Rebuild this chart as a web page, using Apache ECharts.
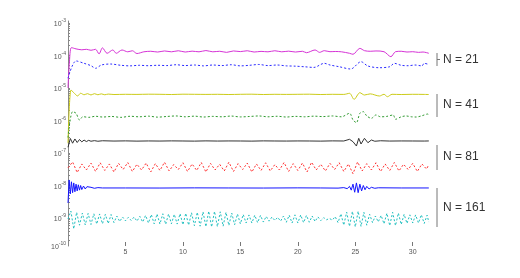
<!DOCTYPE html>
<html><head><meta charset="utf-8">
<script src="https://cdn.jsdelivr.net/npm/echarts@6/dist/echarts.min.js"></script>
<style>html,body{margin:0;padding:0;background:#fff}#c{width:520px;height:278px}</style>
</head><body><div id="c"></div>
<script>
// ---- data (time t, error value) ----
const xTicks = [5, 10, 15, 20, 25, 30];
const yLabelExps = [-3, -4, -5, -6, -7, -8, -9];
const groupLabels = ['N = 21', 'N = 41', 'N = 81', 'N = 161'];

const magT = [0,0.12,0.3,0.7,1.2,1.6,2.0,2.4,2.7,3.0,3.4,3.9,4.2,4.7,5.2,5.6,6.0,6.6,7.2,7.8,8.4,9.0,9.6,10.2,10.8,11.4,12.0,12.6,13.2,13.8,14.4,15.0,15.6,16.2,16.8,17.4,18.0,18.6,19.2,19.8,20.4,20.75,21.5,21.9,22.3,22.8,23.3,23.8,24.5,24.8,25.4,25.8,26.3,26.8,27.5,28.1,28.5,29.0,29.5,30.0,30.5,30.9,31.4];
const magV = [1.0e-5,6e-5,1.75e-4,1.6e-4,1.5e-4,1.55e-4,1.45e-4,1.55e-4,1.12e-4,1.72e-4,1.17e-4,1.48e-4,1.17e-4,1.48e-4,1.3e-4,1.4e-4,1.15e-4,1.3e-4,1.35e-4,1.28e-4,1.38e-4,1.3e-4,1.4e-4,1.28e-4,1.36e-4,1.3e-4,1.42e-4,1.3e-4,1.35e-4,1.25e-4,1.38e-4,1.32e-4,1.4e-4,1.28e-4,1.34e-4,1.3e-4,1.4e-4,1.3e-4,1.36e-4,1.28e-4,1.35e-4,1.22e-4,1.48e-4,1.25e-4,1.41e-4,1.31e-4,1.33e-4,1.3e-4,1.17e-4,1.09e-4,1.66e-4,1.41e-4,1.35e-4,1.38e-4,1.31e-4,0.92e-4,1.31e-4,1.35e-4,1.28e-4,1.31e-4,1.25e-4,1.28e-4,1.17e-4];

const bdT = [0,0.7,1.4,2.0,2.4,2.9,3.7,4.6,5.4,6.2,7.0,7.8,8.6,9.4,10.2,11.0,11.8,12.6,13.4,14.2,15.0,15.8,16.6,17.4,18.2,19.0,19.8,20.6,21.4,22.3,22.8,23.6,24.6,25.5,26.1,27.1,28.0,28.4,29.0,29.6,30.2,30.8,31.0,31.4];
const bdV = [2.0e-5,6.8e-5,5.75e-5,4.86e-5,4.04e-5,5.1e-5,5.47e-5,5.0e-5,4.8e-5,5.0e-5,4.85e-5,5.0e-5,4.9e-5,5.2e-5,4.9e-5,5.1e-5,4.8e-5,5.1e-5,4.9e-5,5.2e-5,4.8e-5,5.0e-5,5.3e-5,4.9e-5,5.1e-5,4.8e-5,4.7e-5,4.5e-5,4.3e-5,5.75e-5,5.1e-5,4.52e-5,3.84e-5,6.44e-5,4.75e-5,4.21e-5,4.52e-5,5.75e-5,5.0e-5,4.85e-5,5.1e-5,4.8e-5,5.75e-5,5.3e-5];

const yelT = [0,0.26,0.5,0.84,1.1,1.4,1.7,2.0,2.3,2.6,2.9,3.2,3.5,4,5,6,7,8,9,10,11,12,13,14,15,16,17,18,19,20,21,22,23,24,24.5,24.9,25.4,25.8,26.3,27.1,27.5,27.8,28.2,29,30,31,31.4];
const yelV = [2e-7,8.7e-6,7.2e-6,5.7e-6,6.9e-6,6.2e-6,6.7e-6,6.1e-6,6.7e-6,6.2e-6,6.6e-6,6.2e-6,6.5e-6,6.3e-6,6.4e-6,6.35e-6,6.45e-6,6.4e-6,6.3e-6,6.45e-6,6.4e-6,6.35e-6,6.4e-6,6.3e-6,6.4e-6,6.45e-6,6.3e-6,6.4e-6,6.35e-6,6.4e-6,6.45e-6,6.3e-6,6.4e-6,6.35e-6,6.87e-6,4.49e-6,7.17e-6,6.09e-6,6.6e-6,5.67e-6,6.4e-6,5.4e-6,6.4e-6,6.3e-6,6.4e-6,6.35e-6,6.3e-6];

const grnT = [0,0.4,0.7,1.0,1.3,1.8,2.4,3.0,3.8,4.6,5.4,6.2,7.0,7.8,8.6,9.4,10.2,11.0,11.8,12.6,13.4,14.2,15.0,15.8,16.6,17.4,18.2,19.0,19.8,20.6,21.4,22.2,23.0,23.8,24.5,24.8,25.1,25.4,25.7,26.0,26.4,26.8,27.2,27.7,28.3,28.5,29.0,29.4,29.9,30.3,30.8,31.3,31.4];
const grnV = [3e-7,1.87e-6,1.67e-6,1.04e-6,1.31e-6,1.25e-6,1.35e-6,1.28e-6,1.33e-6,1.25e-6,1.35e-6,1.3e-6,1.36e-6,1.27e-6,1.33e-6,1.38e-6,1.3e-6,1.36e-6,1.28e-6,1.34e-6,1.3e-6,1.37e-6,1.29e-6,1.33e-6,1.38e-6,1.3e-6,1.35e-6,1.28e-6,1.34e-6,1.3e-6,1.36e-6,1.32e-6,1.38e-6,1.3e-6,1.67e-6,1.04e-6,0.86e-6,1.67e-6,1.87e-6,1.38e-6,1.17e-6,1.48e-6,1.3e-6,1.33e-6,1.48e-6,1.09e-6,1.3e-6,1.38e-6,1.3e-6,1.28e-6,1.4e-6,1.58e-6,1.5e-6];

const blkT = [0,0.2,0.4,0.6,0.8,1.0,1.2,1.4,1.6,1.8,2.0,2.3,2.6,3,4,5,6,7,8,9,10,11,12,13,14,15,16,17,18,19,20,21,22,23,24,24.5,24.8,25.1,25.3,25.5,25.8,26.1,26.4,26.7,27.2,28,29,30,31,31.4];
const blkV = [1.5e-7,2.8e-7,2.0e-7,2.7e-7,2.1e-7,2.6e-7,2.2e-7,2.5e-7,2.25e-7,2.45e-7,2.3e-7,2.4e-7,2.3e-7,2.38e-7,2.33e-7,2.36e-7,2.32e-7,2.35e-7,2.33e-7,2.36e-7,2.34e-7,2.32e-7,2.36e-7,2.33e-7,2.35e-7,2.34e-7,2.32e-7,2.36e-7,2.34e-7,2.33e-7,2.35e-7,2.34e-7,2.32e-7,2.36e-7,2.34e-7,2.64e-7,2.23e-7,1.64e-7,2.83e-7,1.89e-7,2.83e-7,2.07e-7,2.51e-7,2.3e-7,2.38e-7,2.33e-7,2.35e-7,2.34e-7,2.33e-7,2.35e-7];

const redT = [0,0.4,0.8,1.2,1.6,2.0,2.4,2.8,3.2,3.6,4.0,4.4,4.8,5.2,5.6,6.0,6.4,6.8,7.2,7.6,8.0,8.4,8.8,9.2,9.6,10.0,10.4,10.8,11.2,11.6,12.0,12.4,12.8,13.2,13.6,14.0,14.4,14.8,15.2,15.6,16.0,16.4,16.8,17.2,17.6,18.0,18.4,18.8,19.2,19.6,20.0,20.4,20.8,21.2,21.6,22.0,22.4,22.8,23.2,23.6,24.0,24.4,24.8,25.2,25.6,26.0,26.4,26.8,27.2,27.6,28.0,28.4,28.8,29.2,29.6,30.0,30.4,30.8,31.2,31.4];
const redV = [3.5e-8,5.3e-8,2.5e-8,4.6e-8,3.0e-8,4.9e-8,2.7e-8,5.0e-8,2.9e-8,4.6e-8,2.6e-8,4.8e-8,3.1e-8,5.1e-8,2.7e-8,4.5e-8,3.0e-8,4.9e-8,2.6e-8,4.7e-8,2.9e-8,5.2e-8,2.8e-8,4.4e-8,3.1e-8,5.0e-8,2.7e-8,4.6e-8,2.9e-8,5.1e-8,2.6e-8,4.8e-8,3.0e-8,4.5e-8,2.8e-8,5.2e-8,2.7e-8,4.7e-8,3.1e-8,4.9e-8,2.6e-8,4.6e-8,2.9e-8,5.0e-8,2.8e-8,4.4e-8,3.0e-8,5.1e-8,2.7e-8,4.7e-8,2.9e-8,4.9e-8,2.6e-8,5.2e-8,3.0e-8,4.5e-8,2.8e-8,4.8e-8,3.1e-8,5.0e-8,2.7e-8,4.6e-8,2.3e-8,5.3e-8,2.8e-8,4.7e-8,3.0e-8,5.0e-8,2.7e-8,4.6e-8,2.9e-8,5.1e-8,2.8e-8,4.5e-8,3.1e-8,4.8e-8,2.7e-8,4.6e-8,3.2e-8,4.4e-8];

const bluT = [0,0.1,0.2,0.3,0.4,0.5,0.6,0.7,0.8,0.9,1.0,1.1,1.2,1.35,1.5,1.65,1.8,2.0,2.3,2.6,3,5,8,11,14,17,20,22,23.5,24.0,24.3,24.5,24.65,24.8,24.95,25.1,25.25,25.4,25.55,25.7,25.85,26.0,26.2,26.4,26.7,27,29,31.4];
const bluV = [2.9e-9,1.48e-8,5.5e-9,1.3e-8,6.0e-9,1.2e-8,6.4e-9,1.1e-8,6.8e-9,1.05e-8,7.2e-9,1.0e-8,7.5e-9,9.6e-9,7.8e-9,9.2e-9,8.0e-9,8.8e-9,8.2e-9,8.6e-9,8.4e-9,8.4e-9,8.35e-9,8.45e-9,8.4e-9,8.35e-9,8.45e-9,8.4e-9,8.3e-9,8.6e-9,8.0e-9,9.4e-9,7.2e-9,1.1e-8,6.2e-9,1.2e-8,6.0e-9,1.1e-8,6.8e-9,1.0e-8,7.4e-9,9.4e-9,7.8e-9,8.8e-9,8.2e-9,8.5e-9,8.4e-9,8.4e-9];

const cyaT = [0,0.25,0.5,0.75,1,1.25,1.5,1.75,2,2.25,2.5,2.75,3,3.25,3.5,3.75,4,4.25,4.5,4.75,5,5.25,5.5,5.75,6,6.25,6.5,6.75,7,7.25,7.5,7.75,8,8.25,8.5,8.75,9,9.25,9.5,9.75,10,10.25,10.5,10.75,11,11.25,11.5,11.75,12,12.25,12.5,12.75,13,13.25,13.5,13.75,14,14.25,14.5,14.75,15,15.25,15.5,15.75,16,16.25,16.5,16.75,17,17.25,17.5,17.75,18,18.25,18.5,18.75,19,19.25,19.5,19.75,20,20.25,20.5,20.75,21,21.25,21.5,21.75,22,22.25,22.5,22.75,23,23.25,23.5,23.75,24,24.25,24.5,24.75,25,25.25,25.5,25.75,26,26.25,26.5,26.75,27,27.25,27.5,27.75,28,28.25,28.5,28.75,29,29.25,29.5,29.75,30,30.25,30.5,30.75,31,31.25,31.4];
const cyaV = [0.93e-9,1.64e-9,0.46e-9,1.5e-9,0.6e-9,1.42e-9,0.61e-9,1.38e-9,0.63e-9,1.35e-9,0.65e-9,1.33e-9,0.66e-9,1.3e-9,0.67e-9,1.28e-9,0.72e-9,1.15e-9,0.78e-9,1.07e-9,0.82e-9,1.05e-9,0.84e-9,1.07e-9,0.8e-9,1.12e-9,0.75e-9,1.2e-9,0.7e-9,1.28e-9,0.66e-9,1.33e-9,0.65e-9,1.35e-9,0.64e-9,1.33e-9,0.66e-9,1.3e-9,0.65e-9,1.36e-9,0.62e-9,1.4e-9,0.6e-9,1.45e-9,0.58e-9,1.5e-9,0.56e-9,1.55e-9,0.54e-9,1.62e-9,0.53e-9,1.6e-9,0.54e-9,1.55e-9,0.56e-9,1.5e-9,0.59e-9,1.42e-9,0.62e-9,1.33e-9,0.66e-9,1.28e-9,0.7e-9,1.24e-9,0.7e-9,1.22e-9,0.72e-9,1.2e-9,0.75e-9,1.12e-9,0.8e-9,1.07e-9,0.84e-9,1.05e-9,0.8e-9,1.15e-9,0.74e-9,1.22e-9,0.7e-9,1.25e-9,0.7e-9,1.24e-9,0.72e-9,1.2e-9,0.74e-9,1.15e-9,0.78e-9,1.08e-9,0.83e-9,1.02e-9,0.88e-9,0.97e-9,0.86e-9,1.1e-9,0.72e-9,1.35e-9,0.6e-9,1.52e-9,0.55e-9,1.6e-9,0.53e-9,1.62e-9,0.55e-9,1.5e-9,0.6e-9,1.3e-9,0.72e-9,1.15e-9,0.76e-9,1.2e-9,0.66e-9,1.4e-9,0.58e-9,1.5e-9,0.58e-9,1.42e-9,0.63e-9,1.3e-9,0.68e-9,1.25e-9,0.7e-9,1.24e-9,0.7e-9,1.26e-9,0.68e-9,1.22e-9,0.75e-9];

// ---- chart ----
const zip = (t, v) => t.map((x, i) => [x, v[i]]);
const chart = echarts.init(document.getElementById('c'), null, {renderer: 'canvas'});
const yMin = Math.pow(10, -9.862), yMax = Math.pow(10, -2.938);
const minorTicks = [];
for (let k = -10; k <= -3; k++) for (let m = 1; m <= 9; m++) {
  const v = m * Math.pow(10, k);
  if (v >= yMin && v <= yMax) minorTicks.push(v);
}
const labelVals = yLabelExps.map(e => Math.pow(10, e)).concat([yMin]);

function ser(t, v, color, dashed, smooth) {
  return {
    type: 'line', data: zip(t, v), showSymbol: false, symbol: 'none',
    smooth: smooth ? 0.3 : false, animation: false, silent: true,
    lineStyle: {color: color, width: 1, type: dashed ? [2, 2] : 'solid'}
  };
}

const option = {
  animation: false,
  backgroundColor: '#fff',
  grid: {left: 68, right: 91, top: 21, bottom: 32},
  xAxis: {
    type: 'value', min: 0, max: 31.416,
    axisLine: {show: false},
    axisTick: {show: true, inside: true, length: 4, customValues: xTicks, lineStyle: {color: '#777'}},
    axisLabel: {customValues: xTicks, fontSize: 7, color: '#555', margin: 3, fontFamily: 'Liberation Sans'},
    splitLine: {show: false}
  },
  yAxis: {
    type: 'log', logBase: 10, min: yMin, max: yMax,
    axisLine: {show: true, lineStyle: {color: '#888'}},
    axisTick: {show: true, inside: true, length: 2, customValues: minorTicks, lineStyle: {color: '#888'}},
    axisLabel: {
      customValues: labelVals, margin: 2, color: '#555', fontFamily: 'Liberation Sans',
      formatter: v => '{b|10}{s|' + Math.round(Math.log10(v)) + '}',
      rich: {b: {fontSize: 7, color: '#555', padding: [3, 0, 0, 0]}, s: {fontSize: 5, color: '#555', padding: [0, 0, 4, 0]}}
    },
    splitLine: {show: false}
  },
  series: [
    ser(magT, magV, '#d633d6', false, true),
    ser(bdT, bdV, '#2a2aff', true, true),
    ser(yelT, yelV, '#cccc1a', false, true),
    ser(grnT, grnV, '#2f9a2f', true, true),
    ser(blkT, blkV, '#333333', false, false),
    ser(redT, redV, '#ff3030', true, false),
    ser(bluT, bluV, '#1515ff', false, false),
    ser(cyaT, cyaV, '#1fbfbf', true, false)
  ],
  graphic: [
    {type: 'line', shape: {x1: 437, y1: 53, x2: 437, y2: 66}, style: {stroke: '#777', lineWidth: 1}},
    {type: 'line', shape: {x1: 437, y1: 59.5, x2: 440, y2: 59.5}, style: {stroke: '#777', lineWidth: 1}},
    {type: 'line', shape: {x1: 437, y1: 94, x2: 437, y2: 117}, style: {stroke: '#777', lineWidth: 1}},
    {type: 'line', shape: {x1: 437, y1: 145, x2: 437, y2: 170}, style: {stroke: '#777', lineWidth: 1}},
    {type: 'line', shape: {x1: 437, y1: 188, x2: 437, y2: 227}, style: {stroke: '#777', lineWidth: 1}},
    {type: 'text', x: 443, y: 60, style: {text: groupLabels[0], fontSize: 12, fill: '#333', verticalAlign: 'middle', fontFamily: 'Liberation Sans'}},
    {type: 'text', x: 443, y: 105, style: {text: groupLabels[1], fontSize: 12, fill: '#333', verticalAlign: 'middle', fontFamily: 'Liberation Sans'}},
    {type: 'text', x: 443, y: 157, style: {text: groupLabels[2], fontSize: 12, fill: '#333', verticalAlign: 'middle', fontFamily: 'Liberation Sans'}},
    {type: 'text', x: 443, y: 208, style: {text: groupLabels[3], fontSize: 12, fill: '#333', verticalAlign: 'middle', fontFamily: 'Liberation Sans'}}
  ]
};
chart.setOption(option);
</script>
</body></html>
